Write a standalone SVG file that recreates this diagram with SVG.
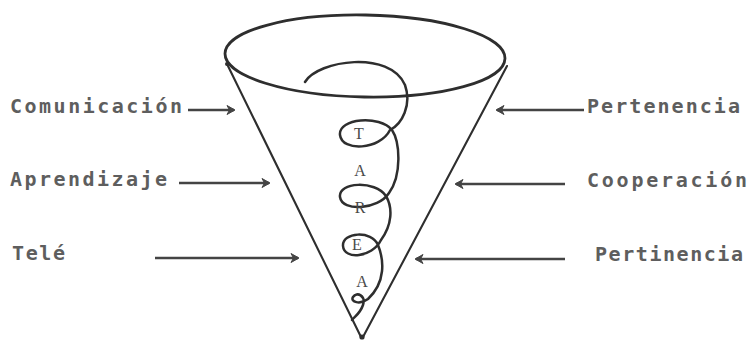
<svg xmlns="http://www.w3.org/2000/svg" width="750" height="342" viewBox="0 0 750 342">
  <defs>
    <style>
      .lbl { font-family: "DejaVu Sans Mono", "Liberation Mono", monospace; font-size: 20px; font-weight: bold; fill: #5e5e5e; }
      .ltr { font-family: "Liberation Serif", "DejaVu Serif", serif; font-size: 16px; fill: #4a4a4a; text-anchor: middle; }
      .ink { fill: none; stroke: #2e2e2e; stroke-linecap: round; stroke-linejoin: round; }
      .arr { fill: none; stroke: #444; stroke-width: 2.4; marker-end: url(#ah); }
    </style>
    <marker id="ah" markerUnits="userSpaceOnUse" markerWidth="12" markerHeight="12" refX="9" refY="6" orient="auto">
      <path d="M2,1.5 L10,6 L2,10.5 L4.5,6 Z" fill="#444" stroke="#444" stroke-width="1" stroke-linejoin="round"/>
    </marker>
  </defs>
  <rect width="750" height="342" fill="#fff"/>

  <g id="cone">
    <ellipse class="ink" cx="365" cy="56" rx="140" ry="41" transform="rotate(1 365 56)" stroke-width="2.8"/>
    <path class="ink" d="M227 64 L361 337" stroke-width="2.1"/>
    <path class="ink" d="M507 66 L363 337" stroke-width="2.1"/>
    <circle cx="362" cy="337" r="2.6" fill="#2e2e2e"/>
    <circle cx="227" cy="64" r="2" fill="#2e2e2e"/>
  </g>

  <g id="spiral">
    <path class="ink" stroke-width="2.5" d="M305 82 C318 60, 390 50, 405 85 C412 105, 402 124, 390 130 C380 150, 342 152, 340 135 C338 118, 380 115, 392 130 C400 142, 402 175, 389 193 C378 210, 342 212, 340 197 C338 182, 375 180, 386 196 C393 208, 392 225, 381 240 C372 258, 344 260, 343 246 C342 232, 372 230, 378 245 C384 260, 386 282, 368 299 C360 305, 350 302, 353 297 C357 291, 366 296, 363 305 C360 314, 354 317, 352 320"/>
    <text class="ltr" x="359" y="139">T</text>
    <text class="ltr" x="360" y="176">A</text>
    <text class="ltr" x="360" y="213">R</text>
    <text class="ltr" x="357" y="250">E</text>
    <text class="ltr" x="362" y="287">A</text>
  </g>

  <g id="comunicacion"><text class="lbl" x="10" y="113" textLength="172" lengthAdjust="spacing">Comunicación</text></g>
  <g id="aprendizaje"><text class="lbl" x="10" y="186" textLength="157" lengthAdjust="spacing">Aprendizaje</text></g>
  <g id="tele"><text class="lbl" x="12" y="260" textLength="53" lengthAdjust="spacing">Telé</text></g>
  <g id="pertenencia"><text class="lbl" x="587" y="113" textLength="153" lengthAdjust="spacing">Pertenencia</text></g>
  <g id="cooperacion"><text class="lbl" x="587" y="187" textLength="160" lengthAdjust="spacing">Cooperación</text></g>
  <g id="pertinencia"><text class="lbl" x="595" y="261" textLength="148" lengthAdjust="spacing">Pertinencia</text></g>

  <g id="connectors">
    <line class="arr" x1="188" y1="110" x2="234" y2="110"/>
    <line class="arr" x1="179" y1="183" x2="269" y2="183"/>
    <line class="arr" x1="155" y1="258" x2="298" y2="258"/>
    <line class="arr" x1="584" y1="110" x2="497" y2="110"/>
    <line class="arr" x1="565" y1="184" x2="456" y2="184"/>
    <line class="arr" x1="565" y1="259" x2="416" y2="259"/>
  </g>
</svg>
